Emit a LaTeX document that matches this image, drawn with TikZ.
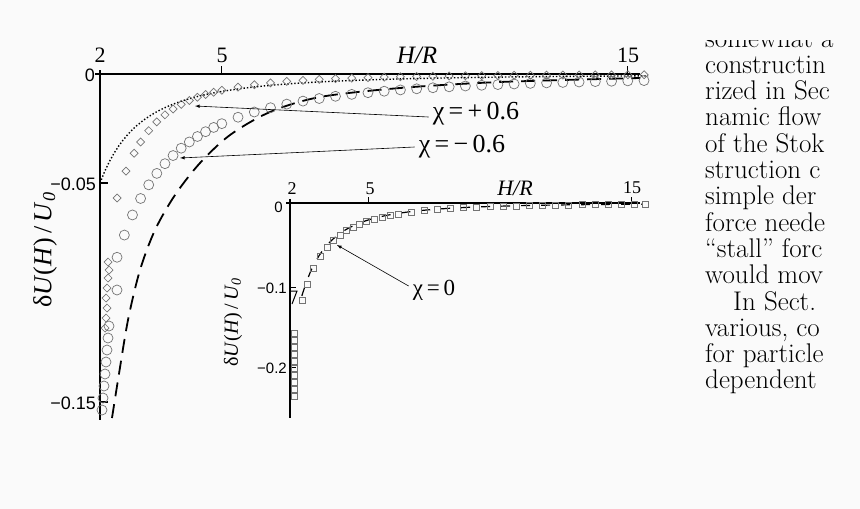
\documentclass[tikz,border=0pt]{standalone}
\usepackage{fontspec}
\setmainfont{Liberation Serif}
\newfontfamily\plotsans{Liberation Sans}
\newfontfamily\lmfont{Latin Modern Roman}
\begin{document}
\begin{tikzpicture}[x=1pt,y=-1pt,
  ax/.style={line width=1.6pt},
  tk/.style={line width=1.2pt},
  mk/.style={draw=black!55,line width=0.7pt},
  lbl/.style={inner sep=0pt},
  pt/.style={-latex,line width=0.6pt}]
\fill[black!2] (0,0) rectangle (860,509);
\useasboundingbox (0,0) rectangle (860,509);
% ---------- main plot ----------
\draw[ax] (95,74) -- (640,74);
\draw[ax] (100,70) -- (100,420);
\foreach \h in {5,15}{\draw[tk] ({100+40.6*(\h-2)},74) -- ({100+40.6*(\h-2)},66);}
\foreach \v in {183,402}{\draw[tk] (100,\v) -- (108,\v);}
\node[lbl] (x2) at (100,55) {\fontsize{22}{22}\selectfont 2};
\node[lbl] (x5) at (222,55) {\fontsize{22}{22}\selectfont 5};
\node[lbl] (x15) at (628,55) {\fontsize{22}{22}\selectfont 15};
\node[lbl] (hr) at (417,55) {\fontsize{25}{25}\selectfont\itshape H/R};
\node[lbl,anchor=east] (y0) at (95,75) {\plotsans\fontsize{18}{18}\selectfont 0};
\node[lbl,anchor=east] (y1) at (96,184) {\plotsans\fontsize{18}{18}\selectfont −0.05};
\node[lbl,anchor=east] (y2) at (96,403) {\plotsans\fontsize{18}{18}\selectfont −0.15};
\node[lbl,rotate=90] (ylab) at (45,250) {\fontsize{26}{26}\selectfont δ\textit{U}(\textit{H})\,/\,\textit{U}\textsubscript{\textit{0}}};
% dotted
\draw[dotted,line width=1.4pt] plot[domain=2:15.5,samples=120] ({100+40.6*(\x-2)},{74+109*(2/\x)^2});
% dashed
\draw[line width=1.8pt,dash pattern=on 14pt off 8pt] plot[smooth] coordinates {(112,418) (118,380) (128,320) (140,270) (155,230) (175,195) (200,163) (230,135) (270,112) (320,97) (400,88) (500,82) (640,78)};
% circles
\foreach \h in {2.42,2.6,2.8,3.0,3.2,3.4,3.6,3.8,4.0,4.2,4.4,4.6,4.8,5.0,5.4,5.8,6.2,6.6,7.0,7.4,7.8,8.2,8.6,9.0,9.4,9.8,10.2,10.6,11.0,11.4,11.8,12.2,12.6,13.0,13.4,13.8,14.2,14.6,15.0,15.4}
  {\draw[mk] ({100+40.6*(\h-2)},{74+109*(3.23/\h)^1.8}) circle (5);}
\foreach \p in {(102,410),(103,398),(104,386),(105,374),(106,362),(107,350),(108,338),(109,326),(117,290)}
  {\draw[mk] \p circle (5);}
% diamonds
\foreach \h in {2.42,2.64,2.84,3.0,3.2,3.4,3.6,3.8,4.0,4.2,4.4,4.6,4.8,5.0,5.4,5.8,6.2,6.6,7.0,7.4,7.8,8.2,8.6,9.0,9.4,9.8,10.2,10.6,11.0,11.4,11.8,12.2,12.6,13.0,13.4,13.8,14.2,14.6,15.0,15.4}
  {\draw[mk] ({100+40.6*(\h-2)},{74+124*(2.42/\h)^2.8}) +(0,-4) -- +(4,0) -- +(0,4) -- +(-4,0) -- cycle;}
\foreach \p in {(108,262),(109,270),(108,278),(107,288),(106,298),(107,308),(106,318),(105,328)}
  {\draw[mk] \p +(0,-4) -- +(4,0) -- +(0,4) -- +(-4,0) -- cycle;}
% labels & arrows
\node[lbl] (cp) at (476,114) {\fontsize{26}{26}\selectfont χ\,=\,+\,0.6};
\node[lbl] (cm) at (462,147) {\fontsize{26}{26}\selectfont χ\,=\,−\,0.6};
\coordinate (tp) at (195,106);
\coordinate (tm) at (180,158);
\draw[pt] (cp.west) ++(-4,3) -- (tp);
\draw[pt] (cm.west) ++(-4,0) -- (tm);
% ---------- inset ----------
\draw[ax,line width=1.3pt] (286,203) -- (640,203);
\draw[ax,line width=1.3pt] (290,199) -- (290,418);
\foreach \h in {5,15}{\draw[tk,line width=1pt] ({290+26.3*(\h-2)},203) -- ({290+26.3*(\h-2)},197);}
\foreach \v in {287,367}{\draw[tk,line width=1pt] (290,\v) -- (296,\v);}
\node[lbl] (ix2) at (292,189) {\fontsize{18}{18}\selectfont 2};
\node[lbl] (ix5) at (370,189) {\fontsize{18}{18}\selectfont 5};
\node[lbl] (ix15) at (632,188) {\fontsize{18}{18}\selectfont 15};
\node[lbl] (ihr) at (515,188) {\fontsize{22}{22}\selectfont\itshape H/R};
\node[lbl,anchor=east] (iy0) at (283,207) {\plotsans\fontsize{15}{15}\selectfont 0};
\node[lbl,anchor=east] (iy1) at (287,288) {\plotsans\fontsize{15}{15}\selectfont −0.1};
\node[lbl,anchor=east] (iy2) at (287,368) {\plotsans\fontsize{15}{15}\selectfont −0.2};
\node[lbl,rotate=90] (iylab) at (233,322) {\fontsize{20}{20}\selectfont δ\textit{U}(\textit{H})\,/\,\textit{U}\textsubscript{\textit{0}}};
\draw[line width=1.2pt,dash pattern=on 9pt off 11pt] plot[domain=2.45:15.4,samples=80] ({290+26.3*(\x-2)},{203+92*(2.46/\x)^2.4});
\draw[line width=1pt] (291,291) -- (297,291) -- (292,304);
\foreach \h in {2.45,2.65,2.9,3.15,3.4,3.65,3.9,4.15,4.4,4.65,4.9,5.2,5.5,5.8,6.1,6.6,7.1,7.6,8.1,8.6,9.1,9.6,10.1,10.6,11.1,11.6,12.1,12.6,13.1,13.6,14.1,14.6,15.1,15.5}
  {\draw[mk,line width=0.6pt] ({290+26.3*(\h-2)},{203+96.8*(2.46/\h)^2.4}) +(-3,-3) rectangle +(3,3);}
\foreach \y in {333,340,347,354,361,368,375,382,389,396}
  {\draw[mk,line width=0.6pt] (294,\y) +(-3,-3) rectangle +(3,3);}
\node[lbl] (c0) at (434,290) {\fontsize{23}{23}\selectfont χ\,=\,0};
\coordinate (t0) at (337,245);
\draw[pt] (c0.west) ++(-4,-4) -- (t0);
% ---------- page text ----------
\begin{scope}
\clip (690,40) rectangle (860,509);
\foreach \t [count=\i] in {somewhat a,constructin,rized in Sec,namic flow,of the Stok,struction c,simple der,force neede,“stall” forc,would mov,\hspace{28pt}In Sect.,{various, co},for particle,dependent}
  {\node[lbl,anchor=base west] (pt\i) at (705,{47+26.3*(\i-1)}) {\lmfont\fontsize{27}{27}\selectfont \t};}
\end{scope}
\end{tikzpicture}
\end{document}
